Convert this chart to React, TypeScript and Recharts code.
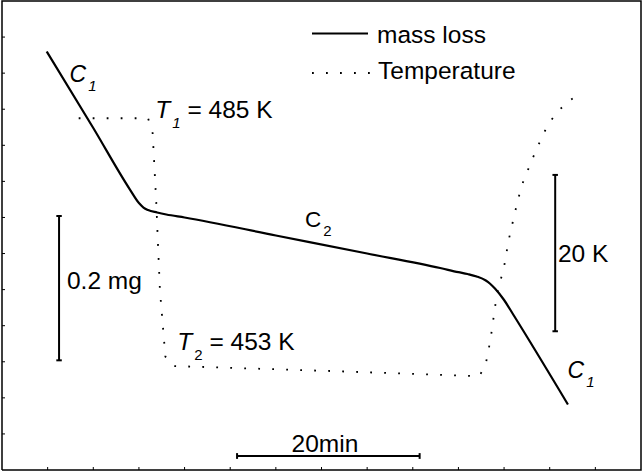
import {
  LineChart,
  Line,
  XAxis,
  YAxis,
  ReferenceLine,
  ReferenceDot,
  Legend,
} from "recharts";

// mass loss curve: time (min) vs sample mass (mg)
const massTime = [4.9, 10, 14, 15, 15.5, 16, 17, 18, 20, 30, 40, 48, 50, 51, 52, 53, 53.5, 54, 55, 56, 62];
const massValues = [
  0.58, 0.474, 0.389, 0.37, 0.3638, 0.3603, 0.3569, 0.3541, 0.35, 0.325, 0.3,
  0.2799, 0.2742, 0.2716, 0.2682, 0.2626, 0.2578, 0.2515, 0.2356, 0.2155, 0.0907,
];

// temperature curve: time (min) vs T (K)
const tempTime = [
  8.4, 16.0, 16.5, 16.9, 17.3, 17.9, 18.8, 35, 52.3, 53.0, 53.5, 54.2, 55.0, 55.5,
  56.2, 56.9, 58.1, 59.3, 60.0, 60.9, 62.1, 63.4,
];
const tempValues = [
  485.0, 485.0, 483.1, 474.2, 463.0, 454.5, 453.3, 452.7, 452.0, 453.6, 456.6,
  462.4, 466.0, 469.4, 473.0, 476.3, 479.8, 483.0, 484.5, 485.9, 487.2, 488.2,
];

const timeTicks = [5, 10, 15, 20, 25, 30, 35, 40, 45, 50, 55, 60, 65];
const massTicks = [0.05, 0.1, 0.15, 0.2, 0.25, 0.3, 0.35, 0.4, 0.45, 0.5, 0.55, 0.6];

const TIME_MAX = 70;
const MASS_MAX = 0.65;

const massData = massTime.map((t, i) => ({ t, mass: massValues[i] }));
const tempData = tempTime.map((t, i) => ({ t, temp: tempValues[i] }));

// box round the plot, traced corner to corner
const frameData = [
  { t: 0, edge: 0 },
  { t: 0, edge: MASS_MAX },
  { t: TIME_MAX, edge: MASS_MAX },
  { t: TIME_MAX, edge: 0 },
  { t: 0, edge: 0 },
];

// scale bars
const massBar = { t: 6.25, from: 0.152, to: 0.352 }; // 0.2 mg
const tempBar = { t: 60.6, from: 457.75, to: 477.75 }; // 20 K
const timeBar = { from: 25.75, to: 45.75, mass: 0.0194 }; // 20 min

const FONT = "'Liberation Sans', Arial, Helvetica, sans-serif";

const makeLabel =
  (
    main: string,
    sub: string,
    rest: string,
    size: number,
    italicMain: boolean,
    italicSub: boolean,
    anchor: "start" | "middle" = "start"
  ) =>
  (props: any) => {
    const vb = props.viewBox || {};
    const x = vb.x + (vb.width || 0) / 2;
    const y = vb.y + (vb.height || 0) / 2;
    const drop = size * 0.4;
    return (
      <text x={x} y={y} fontFamily={FONT} fontSize={size} fill="#000" textAnchor={anchor}>
        <tspan fontStyle={italicMain ? "italic" : "normal"}>{main}</tspan>
        {sub ? (
          <tspan fontSize={15} dx={2} dy={drop} fontStyle={italicSub ? "italic" : "normal"}>
            {sub}
          </tspan>
        ) : null}
        {rest ? <tspan dy={sub ? -drop : 0}>{rest}</tspan> : null}
      </text>
    );
  };

const notes = [
  { t: 7.4, m: 0.5377, label: makeLabel("C", "1", "", 23, true, true) },
  { t: 61.95, m: 0.1275, label: makeLabel("C", "1", "", 23, true, true) },
  { t: 33.2, m: 0.3368, label: makeLabel("C", "2", "", 22.5, false, false) },
  { t: 16.8, m: 0.4878, label: makeLabel("T", "1", " = 485 K", 24.5, true, true) },
  { t: 19.2, m: 0.1663, label: makeLabel("T", "2", " = 453 K", 24.5, true, false) },
  { t: 7.12, m: 0.2508, label: makeLabel("0.2 mg", "", "", 24.5, false, false) },
  { t: 60.9, m: 0.2883, label: makeLabel("20 K", "", "", 24.5, false, false) },
  { t: 35.38, m: 0.0249, label: makeLabel("20min", "", "", 24.5, false, false, "middle") },
];

const renderLegend = () => (
  <svg width={240} height={80} style={{ display: "block" }}>
    <line x1={12} y1={18.5} x2={68} y2={18.5} stroke="#000" strokeWidth={2} />
    <text x={77} y={28} fontFamily={FONT} fontSize={24.5} fill="#000">
      mass loss
    </text>
    <line
      x1={12}
      y1={58}
      x2={70}
      y2={58}
      stroke="#000"
      strokeWidth={1.8}
      strokeDasharray="1.8 12.2"
    />
    <text x={78} y={64} fontFamily={FONT} fontSize={24.5} fill="#000">
      Temperature
    </text>
  </svg>
);

const noTick = () => <g />;
const tickStyle = { stroke: "#000", strokeWidth: 1 };

const App: React.FC = () => {
  const capT = 0.3;
  const capM = 0.004;
  return (
    <div style={{ position: "absolute", left: 0, top: 0 }}>
      <LineChart
        width={642}
        height={473}
        margin={{ top: 1, right: 1, bottom: 3, left: 2 }}
      >
        <XAxis
          xAxisId="b"
          orientation="bottom"
          type="number"
          dataKey="t"
          domain={[0, TIME_MAX]}
          ticks={timeTicks}
          mirror
          tick={noTick}
          tickSize={3}
          axisLine={false}
          tickLine={tickStyle}
        />
        <XAxis
          xAxisId="top"
          orientation="top"
          type="number"
          dataKey="t"
          domain={[0, TIME_MAX]}
          ticks={timeTicks}
          mirror
          tick={noTick}
          tickSize={3}
          axisLine={false}
          tickLine={tickStyle}
        />
        <YAxis
          yAxisId="mass"
          orientation="left"
          type="number"
          domain={[0, MASS_MAX]}
          ticks={massTicks}
          mirror
          tick={noTick}
          tickSize={3}
          axisLine={false}
          tickLine={tickStyle}
        />
        <YAxis
          yAxisId="temp"
          orientation="right"
          type="number"
          domain={[440, 500]}
          mirror
          tick={false}
          tickLine={false}
          axisLine={false}
        />
        <Legend
          layout="horizontal"
          verticalAlign="middle"
          align="center"
          content={renderLegend}
          wrapperStyle={{ left: 300, top: 15, width: 240, height: 80 }}
        />

        {/* frame */}
        <Line
          data={frameData}
          xAxisId="b"
          yAxisId="mass"
          dataKey="edge"
          type="linear"
          stroke="#000"
          strokeWidth={1.5}
          dot={false}
          activeDot={false}
          legendType="none"
          isAnimationActive={false}
        />

        <Line
          data={massData}
          xAxisId="b"
          yAxisId="mass"
          dataKey="mass"
          name="mass loss"
          type="monotone"
          stroke="#000"
          strokeWidth={2.2}
          dot={false}
          activeDot={false}
          isAnimationActive={false}
        />
        <Line
          data={tempData}
          xAxisId="b"
          yAxisId="temp"
          dataKey="temp"
          name="Temperature"
          type="linear"
          stroke="#000"
          strokeWidth={1.8}
          strokeDasharray="1.8 12.2"
          dot={false}
          activeDot={false}
          isAnimationActive={false}
        />

        {/* 0.2 mg scale bar */}
        <ReferenceLine xAxisId="b" yAxisId="mass" ifOverflow="visible" stroke="#000" strokeWidth={2}
          segment={[{ x: massBar.t, y: massBar.from }, { x: massBar.t, y: massBar.to }]} />
        <ReferenceLine xAxisId="b" yAxisId="mass" ifOverflow="visible" stroke="#000" strokeWidth={2}
          segment={[{ x: massBar.t - capT, y: massBar.from }, { x: massBar.t + capT, y: massBar.from }]} />
        <ReferenceLine xAxisId="b" yAxisId="mass" ifOverflow="visible" stroke="#000" strokeWidth={2}
          segment={[{ x: massBar.t - capT, y: massBar.to }, { x: massBar.t + capT, y: massBar.to }]} />

        {/* 20 K scale bar */}
        <ReferenceLine xAxisId="b" yAxisId="temp" ifOverflow="visible" stroke="#000" strokeWidth={2}
          segment={[{ x: tempBar.t, y: tempBar.from }, { x: tempBar.t, y: tempBar.to }]} />
        <ReferenceLine xAxisId="b" yAxisId="temp" ifOverflow="visible" stroke="#000" strokeWidth={2}
          segment={[{ x: tempBar.t - capT, y: tempBar.from }, { x: tempBar.t + capT, y: tempBar.from }]} />
        <ReferenceLine xAxisId="b" yAxisId="temp" ifOverflow="visible" stroke="#000" strokeWidth={2}
          segment={[{ x: tempBar.t - capT, y: tempBar.to }, { x: tempBar.t + capT, y: tempBar.to }]} />

        {/* 20 min scale bar */}
        <ReferenceLine xAxisId="b" yAxisId="mass" ifOverflow="visible" stroke="#000" strokeWidth={2}
          segment={[{ x: timeBar.from, y: timeBar.mass }, { x: timeBar.to, y: timeBar.mass }]} />
        <ReferenceLine xAxisId="b" yAxisId="mass" ifOverflow="visible" stroke="#000" strokeWidth={2}
          segment={[{ x: timeBar.from, y: timeBar.mass - capM }, { x: timeBar.from, y: timeBar.mass + capM }]} />
        <ReferenceLine xAxisId="b" yAxisId="mass" ifOverflow="visible" stroke="#000" strokeWidth={2}
          segment={[{ x: timeBar.to, y: timeBar.mass - capM }, { x: timeBar.to, y: timeBar.mass + capM }]} />

        {notes.map((n, i) => (
          <ReferenceDot
            key={i}
            xAxisId="b"
            yAxisId="mass"
            x={n.t}
            y={n.m}
            r={1}
            fill="none"
            stroke="none"
            ifOverflow="visible"
            label={n.label}
          />
        ))}
      </LineChart>
    </div>
  );
};

export default App;
